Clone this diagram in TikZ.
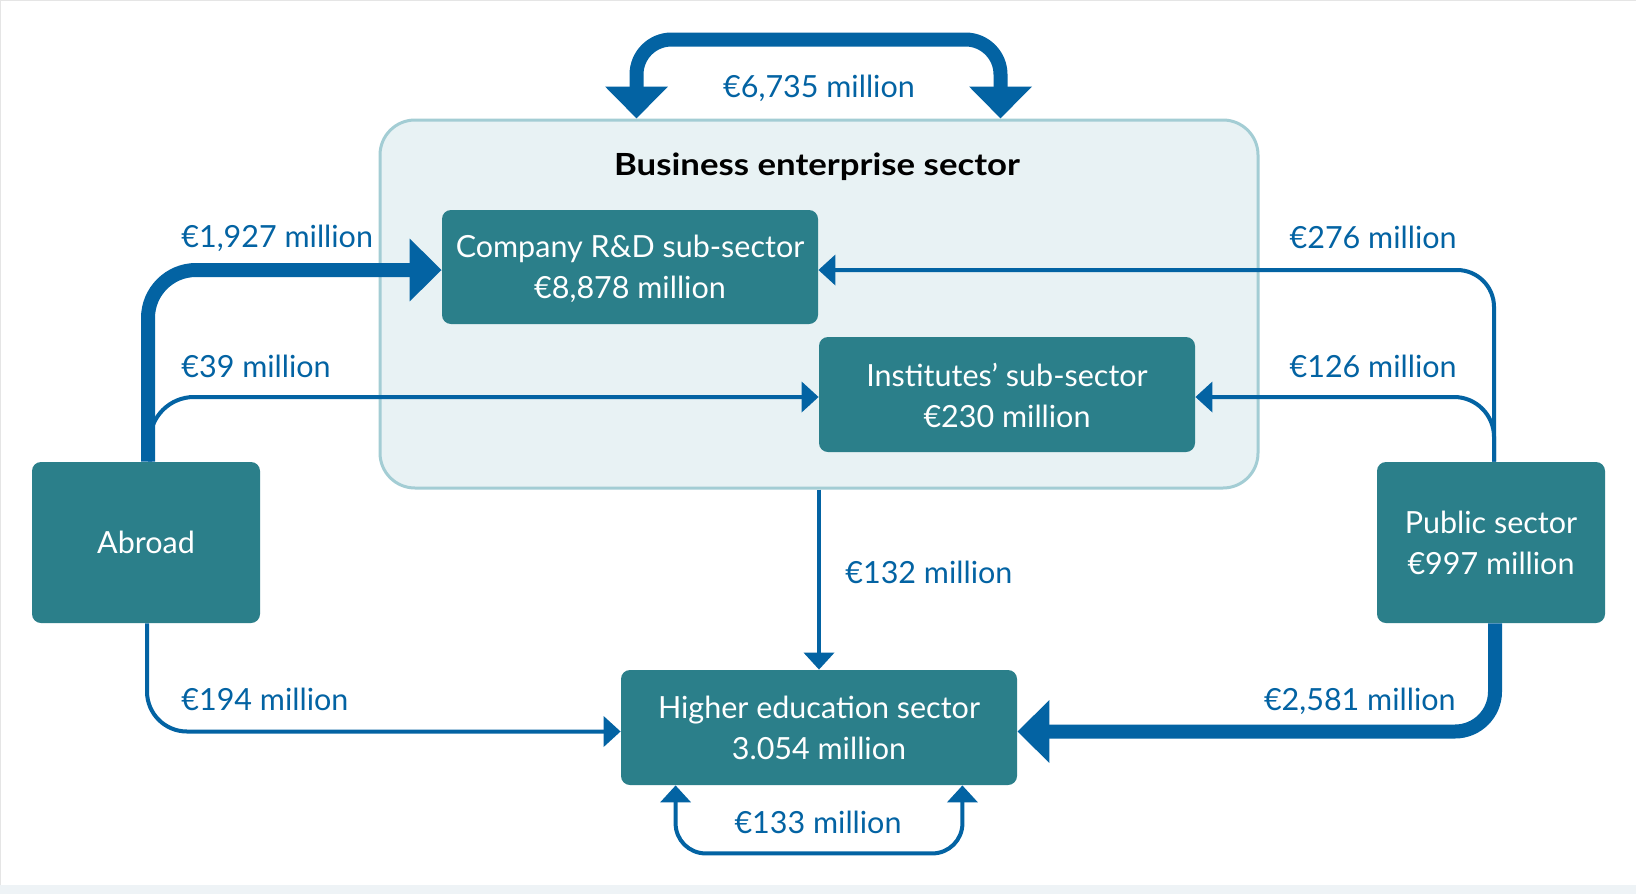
\documentclass[tikz,border=0pt]{standalone}
\usepackage{fontspec}
\setmainfont{Lato}
\newfontfamily\mytitlefont{Lato}[FakeStretch=1.14]
\usetikzlibrary{arrows.meta,calc}
\definecolor{boxteal}{RGB}{43,127,138}
\definecolor{flow}{RGB}{3,99,163}
\definecolor{bizfill}{RGB}{232,242,244}
\definecolor{bizline}{RGB}{163,205,212}
\definecolor{stripcol}{RGB}{238,243,246}
\newcommand\mylblfont{\fontsize{15.25}{20.5}\selectfont}
\begin{document}
\begin{tikzpicture}[x=0.5pt,y=-0.5pt,
  sector/.style={fill=boxteal, rounded corners=4.5pt, text=white, align=center, font=\mylblfont, inner sep=0pt},
  lbl/.style={text=flow, font=\mylblfont, inner sep=0pt},
  bigtip/.tip={Triangle[length=16pt,width=30.5pt]},
  smalltip/.tip={Triangle[length=8.5pt,width=15pt]},
  bigflow/.style={draw=flow, line width=7pt, -bigtip},
  smallflow/.style={draw=flow, line width=2pt, -smalltip},
]
\useasboundingbox (0,0) rectangle (1636,894);
\fill[white] (0,0) rectangle (1636,894);
\fill[stripcol] (0,885) rectangle (1636,894);
\draw[black!10, line width=0.5pt] (0.5,885) -- (0.5,0.5) -- (1636,0.5);

% business enterprise sector
\node[draw=bizline, fill=bizfill, line width=1.5pt, rounded corners=17.5pt,
      minimum width=439pt, minimum height=184pt, inner sep=0pt] (biz) at (819,304) {};
\node[font=\mytitlefont\mylblfont\bfseries, anchor=base, inner sep=0pt] (title) at (817,175) {Business enterprise sector};

% sectors
\node[sector, minimum width=188pt, minimum height=57pt] (company) at (630,267) {\rule{0pt}{13pt}Company R\&D sub-sector\\€8,878 million};
\node[sector, minimum width=188pt, minimum height=57.5pt] (inst) at (1007,394.5) {\rule{0pt}{12.5pt}Institutes’ sub-sector\\€230 million};
\node[sector, minimum width=114pt, minimum height=80.5pt] (abroad) at (146,542.5) {Abroad};
\node[sector, minimum width=114pt, minimum height=80.5pt] (pub) at (1491,542.5) {Public sector\\€997 million};
\node[sector, minimum width=198pt, minimum height=57.5pt] (he) at (819,727.5) {Higher education sector\\3.054 million};

% flows
\coordinate (t1) at ($(biz.north west)+(258,0)$);
\coordinate (t2) at ($(biz.north east)+(-259,0)$);
\draw[bigflow, bigtip-bigtip, rounded corners=17.5pt] (t1) -- ($(t1)+(0,-79)$) -- ($(t2)+(0,-79)$) -- (t2);

\draw[bigflow, rounded corners=24pt] ([xshift=1pt]abroad.north) |- ([yshift=-1.5pt]company.west);
\draw[smallflow, rounded corners=22pt] ([xshift=2pt]abroad.north) |- ([yshift=-1.25pt]inst.west);
\draw[smallflow, rounded corners=18.5pt] ([xshift=1.5pt]pub.north) |- ([yshift=-1.5pt]company.east);
\draw[smallflow, rounded corners=20pt] ([xshift=1.5pt]pub.north) |- ([yshift=-1.25pt]inst.east);
\draw[smallflow] (biz.south) -- (he.north);
\draw[smallflow, rounded corners=20pt] ([xshift=0.5pt]abroad.south) |- ([yshift=-2pt]he.west);
\draw[bigflow, rounded corners=20pt] ([xshift=2pt]pub.south) |- ([yshift=-2pt]he.east);

\coordinate (h1) at ($(he.south west)+(55,0)$);
\coordinate (h2) at ($(he.south east)+(-55,0)$);
\draw[smallflow, smalltip-smalltip, rounded corners=15pt] (h1) -- ($(h1)+(0,68)$) -- ($(h2)+(0,68)$) -- (h2);

% labels
\node[lbl, anchor=base] (l1) at (819,97) {€6,735 million};
\node[lbl, anchor=base west] (l2) at (181,247) {€1,927 million};
\node[lbl, anchor=base west] (l3) at (181,377) {€39 million};
\node[lbl, anchor=base east] (l4) at (1457,248) {€276 million};
\node[lbl, anchor=base east] (l5) at (1457,377) {€126 million};
\node[lbl, anchor=base west] (l6) at (845,583) {€132 million};
\node[lbl, anchor=base west] (l7) at (181,710) {€194 million};
\node[lbl, anchor=base east] (l8) at (1456,710) {€2,581 million};
\node[lbl, anchor=base] (l9) at (818,833) {€133 million};
\end{tikzpicture}
\end{document}
